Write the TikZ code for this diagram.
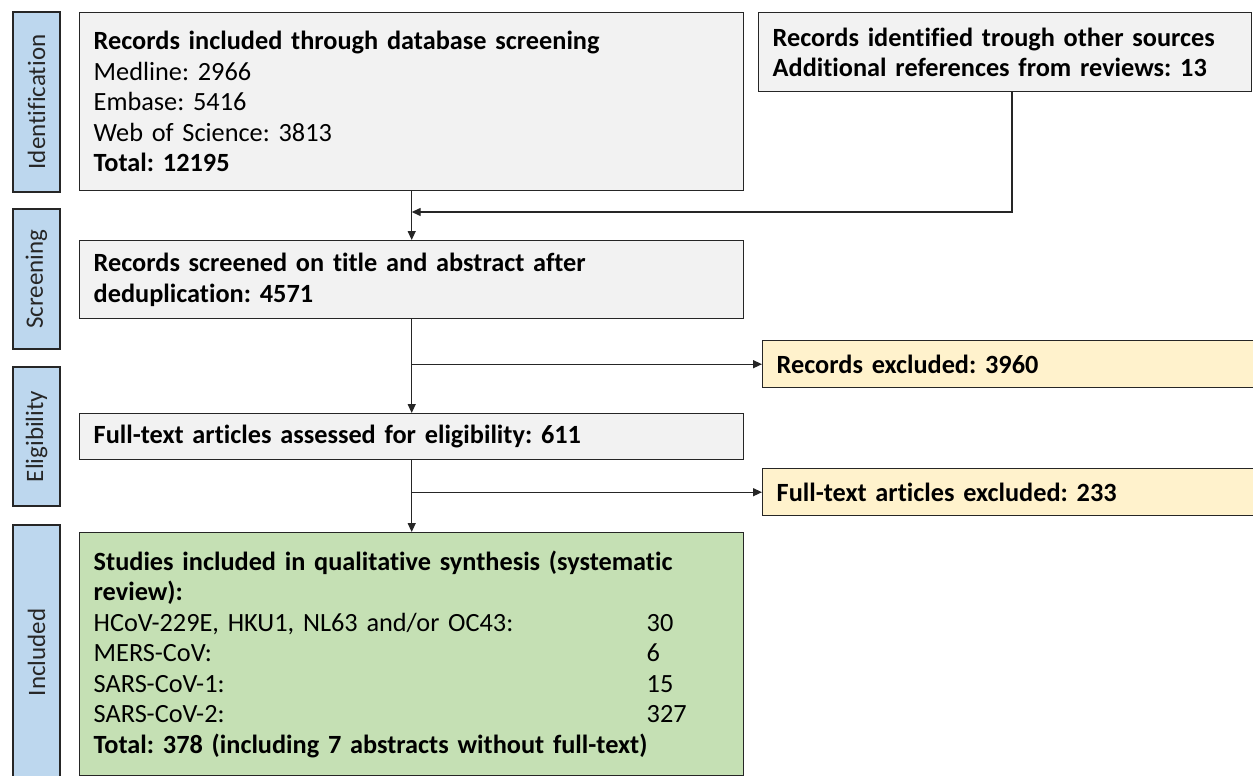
\documentclass[tikz,border=0pt]{standalone}
\usepackage{fontspec}
\setmainfont{Carlito}[Ligatures={NoCommon}]
\usetikzlibrary{arrows.meta,calc}
\definecolor{boxgray}{HTML}{F2F2F2}
\definecolor{sideblue}{HTML}{BDD7EE}
\definecolor{exclyellow}{HTML}{FFF2CC}
\definecolor{inclgreen}{HTML}{C5E0B4}
\definecolor{linec}{HTML}{262626}
\frenchspacing
\begin{document}
\begin{tikzpicture}[x=1pt,y=-1pt,
  txt/.style={font=\fontsize{26.3}{30.5}\selectfont\frenchspacing, text=black},
  box/.style={txt, draw=linec, line width=1.4pt, fill=boxgray, anchor=north west,
    inner xsep=14pt, inner ysep=0pt, align=left},
  side/.style={draw=linec, line width=1.4pt, fill=sideblue, rotate=90,
    minimum height=47pt, inner sep=0pt, font=\fontsize{25}{28}\selectfont, text=linec},
  conn/.style={draw=linec, line width=1.3pt},
  arr/.style={conn, -{Triangle[length=9pt,width=8pt]}}
]
\useasboundingbox (0,0) rectangle (1253,776);
\fill[white] (0,0) rectangle (1253,776);

% side phase bars
\node[side, minimum width=180pt] (sid) at (36.5,102) {Identification};
\node[side, minimum width=140pt] (sscr) at (36.5,279) {Screening};
\node[side, minimum width=139pt] (selig) at (36.5,436.5) {Eligibility};
\node[side, minimum width=255pt] (sinc) at (36.5,652.5) {Included};

% boxes
\node[box, text width=636pt, minimum height=178pt] (b1) at (79,12)
  {\textbf{Records included through database screening}\\
   Medline: 2966\\
   Embase: 5416\\
   Web of Science: 3813\\
   \textbf{Total: 12195}};
\node[box, text width=465pt, minimum height=79pt] (oth) at (758,12)
  {\textbf{Records identified trough other sources}\\
   \textbf{Additional references from reviews: 13}};
\node[box, text width=636pt, minimum height=78pt] (b2) at (79,240)
  {\textbf{Records screened on title and abstract after}\\
   \textbf{deduplication: 4571}};
\node[box, fill=exclyellow, text width=492pt, minimum height=47pt] (b3) at (762,340)
  {\textbf{Records excluded: 3960}};
\node[box, text width=636pt, minimum height=46pt] (b4) at (79,413)
  {\textbf{Full-text articles assessed for eligibility: 611}};
\node[box, fill=exclyellow, text width=492pt, minimum height=47pt] (b5) at (762,468)
  {\textbf{Full-text articles excluded: 233}};
\node[box, fill=inclgreen, text width=636pt, minimum height=243pt] (b6) at (79,532)
  {\textbf{Studies included in qualitative synthesis (systematic}\\
   \textbf{review):}\\
   \makebox[553pt][l]{HCoV-229E, HKU1, NL63 and/or OC43:}30\\
   \makebox[553pt][l]{MERS-CoV:}6\\
   \makebox[553pt][l]{SARS-CoV-1:}15\\
   \makebox[553pt][l]{SARS-CoV-2:}327\\
   \textbf{Total: 378 (including 7 abstracts without full-text)}};

% connectors
\coordinate (m) at (1012,212);
\draw[arr] (b1.south) -- (b2.north);
\draw[arr] (oth.south -| m) -- (m) -- (b1.south |- m);
\draw[arr] (b2.south) -- (b4.north);
\draw[arr] (b2.south |- b3.west) -- (b3.west);
\draw[arr] (b4.south) -- (b6.north);
\draw[arr] (b4.south |- b5.west) -- (b5.west);
\end{tikzpicture}
\end{document}
